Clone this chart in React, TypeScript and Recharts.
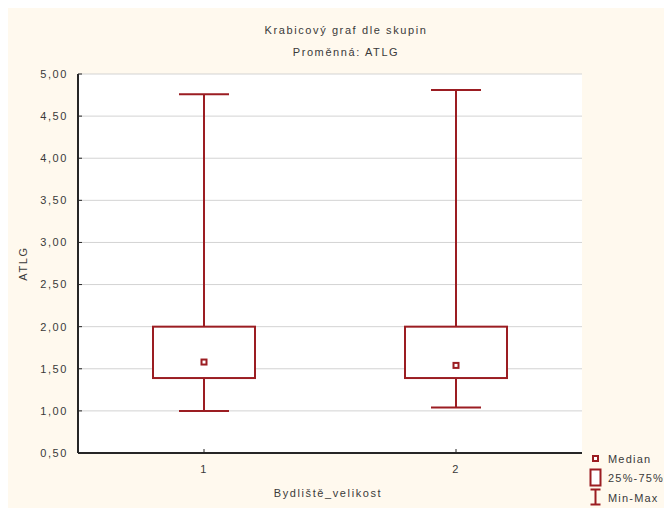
import React from 'react';
import { ComposedChart, Bar, Scatter, XAxis, YAxis, CartesianGrid } from 'recharts';

const categories = ['1', '2'];
const minValues = [1.0, 1.04];
const q1Values = [1.39, 1.39];
const medianValues = [1.58, 1.54];
const q3Values = [2.0, 2.0];
const maxValues = [4.76, 4.81];
const yTicks = [0.5, 1, 1.5, 2, 2.5, 3, 3.5, 4, 4.5, 5];
const legendLabels = ['Median', '25%-75%', 'Min-Max'];
const titleLines = ['Krabicový graf dle skupin', 'Proměnná: ATLG'];
const xAxisTitle = 'Bydliště_velikost';
const yAxisTitle = 'ATLG';

const data = categories.map((name, i) => ({
  name,
  base: minValues[i],
  lowWhisker: q1Values[i] - minValues[i],
  box: q3Values[i] - q1Values[i],
  highWhisker: maxValues[i] - q3Values[i],
  median: medianValues[i],
}));

const RED = '#9b1d22';
const AXIS = '#262626';
const TEXT = '#3a3a3a';
const FONT = '"Liberation Sans", Arial, sans-serif';
const CAP = 50;
const textStyle: React.CSSProperties = { fontFamily: FONT, fontSize: 11, letterSpacing: 1.6, fill: TEXT };
const legendTextStyle: React.CSSProperties = { ...textStyle, letterSpacing: 1.2 };

const Empty = () => <g />;

const LowWhisker = (p: any) => {
  const cx = p.x + p.width / 2;
  const yb = p.y + p.height;
  return (
    <g>
      <line x1={cx} x2={cx} y1={p.y} y2={yb} stroke={RED} strokeWidth={2} />
      <line x1={cx - CAP / 2} x2={cx + CAP / 2} y1={yb} y2={yb} stroke={RED} strokeWidth={2} />
    </g>
  );
};

const HighWhisker = (p: any) => {
  const cx = p.x + p.width / 2;
  const yb = p.y + p.height;
  return (
    <g>
      <line x1={cx} x2={cx} y1={p.y} y2={yb} stroke={RED} strokeWidth={2} />
      <line x1={cx - CAP / 2} x2={cx + CAP / 2} y1={p.y} y2={p.y} stroke={RED} strokeWidth={2} />
    </g>
  );
};

const BoxShape = (p: any) => (
  <rect x={p.x} y={p.y} width={p.width} height={p.height} fill="#ffffff" stroke={RED} strokeWidth={2} />
);

const MedianShape = (p: any) => (
  <rect x={p.cx - 2.5} y={p.cy - 2.5} width={5} height={5} fill="#ffffff" stroke={RED} strokeWidth={2} />
);

const fmt = (v: number) => v.toFixed(2).replace('.', ',');

const YLabel = (props: any) => {
  const vb = props.viewBox || { x: 10, y: 66, width: 60, height: 379 };
  const x = vb.x + 5;
  const y = vb.y + vb.height / 2;
  return (
    <text x={x} y={y} transform={`rotate(-90 ${x} ${y})`} textAnchor="middle" dominantBaseline="central" style={textStyle}>
      {yAxisTitle}
    </text>
  );
};

const XLabel = (props: any) => {
  const vb = props.viewBox || { x: 70, y: 445, width: 504, height: 45 };
  const x = vb.x + vb.width / 2 - 2;
  const y = vb.y + 40;
  return (
    <text x={x} y={y} textAnchor="middle" dominantBaseline="central" style={textStyle}>
      {xAxisTitle}
    </text>
  );
};

export default function App() {
  return (
    <div style={{ position: 'relative', width: 664, height: 500, background: '#fff9ee' }}>
      {titleLines.map((t, i) => (
        <div
          key={t}
          style={{
            position: 'absolute',
            left: 0,
            width: 676,
            top: 16 + i * 22,
            lineHeight: '13px',
            textAlign: 'center',
            fontFamily: FONT,
            fontSize: 11,
            letterSpacing: 1.6,
            color: TEXT,
          }}
        >
          {t}
        </div>
      ))}
      <ComposedChart width={664} height={500} data={data} margin={{ top: 66, right: 90, bottom: 10, left: 10 }}>
        <CartesianGrid vertical={false} stroke="#d3d3d3" fill="#ffffff" />
        <XAxis
          dataKey="name"
          type="category"
          height={45}
          tickSize={-4}
          tickMargin={16}
          axisLine={{ stroke: AXIS, strokeWidth: 2 }}
          tickLine={{ stroke: AXIS }}
          tick={textStyle}
          label={{ content: XLabel }}
        />
        <XAxis
          xAxisId="top"
          orientation="top"
          dataKey="name"
          height={0}
          tick={false}
          tickLine={false}
          axisLine={{ stroke: AXIS, strokeWidth: 2 }}
        />
        <YAxis
          type="number"
          domain={[0.5, 5]}
          ticks={yTicks}
          interval={0}
          allowDataOverflow
          width={60}
          tickSize={-4}
          tickMargin={14}
          tickFormatter={fmt}
          axisLine={{ stroke: AXIS, strokeWidth: 2 }}
          tickLine={{ stroke: AXIS }}
          tick={textStyle}
          label={{ content: YLabel }}
        />
        <YAxis
          yAxisId="right"
          orientation="right"
          type="number"
          domain={[0.5, 5]}
          allowDataOverflow
          width={0}
          tick={false}
          tickLine={false}
          axisLine={{ stroke: AXIS, strokeWidth: 2 }}
        />
        <Bar dataKey="base" stackId="s" barSize={102} fill="none" shape={Empty} isAnimationActive={false} />
        <Bar dataKey="lowWhisker" stackId="s" barSize={102} shape={LowWhisker} isAnimationActive={false} />
        <Bar dataKey="box" stackId="s" barSize={102} shape={BoxShape} isAnimationActive={false} />
        <Bar dataKey="highWhisker" stackId="s" barSize={102} shape={HighWhisker} isAnimationActive={false} />
        <Scatter dataKey="median" shape={MedianShape} isAnimationActive={false} />
      </ComposedChart>
      <svg
        width={87}
        height={58}
        style={{ position: 'absolute', left: 577, top: 442, overflow: 'visible' }}
      >
        <rect x={8} y={6} width={5} height={5} fill="#ffffff" stroke={RED} strokeWidth={2} />
        <rect x={5.5} y={19.5} width={10} height={16} fill="#ffffff" stroke={RED} strokeWidth={2} />
        <line x1={10.5} x2={10.5} y1={39.5} y2={54.5} stroke={RED} strokeWidth={2} />
        <line x1={5.5} x2={15.5} y1={39.5} y2={39.5} stroke={RED} strokeWidth={2} />
        <line x1={5.5} x2={15.5} y1={54.5} y2={54.5} stroke={RED} strokeWidth={2} />
        {legendLabels.map((l, i) => (
          <text key={l} x={23} y={[9, 28, 48][i]} dominantBaseline="central" style={legendTextStyle}>
            {l}
          </text>
        ))}
      </svg>
    </div>
  );
}
